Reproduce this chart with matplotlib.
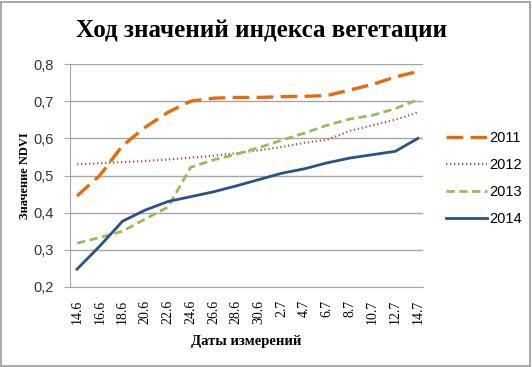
import matplotlib
matplotlib.use("Agg")
import matplotlib.pyplot as plt
from matplotlib.patches import Rectangle

dates = ["14.6", "16.6", "18.6", "20.6", "22.6", "24.6", "26.6", "28.6",
         "30.6", "2.7", "4.7", "6.7", "8.7", "10.7", "12.7", "14.7"]
ndvi_2011 = [0.445, 0.50, 0.58, 0.63, 0.67, 0.70, 0.708, 0.71, 0.71, 0.712,
             0.713, 0.715, 0.73, 0.745, 0.765, 0.78]
ndvi_2012 = [0.53, 0.533, 0.536, 0.539, 0.543, 0.548, 0.553, 0.56, 0.568,
             0.577, 0.588, 0.596, 0.62, 0.635, 0.65, 0.67]
ndvi_2013 = [0.318, 0.333, 0.35, 0.383, 0.415, 0.522, 0.542, 0.557, 0.575,
             0.595, 0.614, 0.635, 0.652, 0.662, 0.68, 0.704]
ndvi_2014 = [0.248, 0.31, 0.377, 0.407, 0.43, 0.443, 0.456, 0.472, 0.489,
             0.506, 0.518, 0.534, 0.547, 0.556, 0.565, 0.60]
y_ticks = [0.2, 0.3, 0.4, 0.5, 0.6, 0.7, 0.8]
y_tick_labels = ["0,2", "0,3", "0,4", "0,5", "0,6", "0,7", "0,8"]

W, H = 532, 367
fig = plt.figure(figsize=(W / 100, H / 100), dpi=100)
ax = fig.add_axes([70 / W, 1 - 287 / H, (423 - 70) / W, (287 - 64) / H])

x = list(range(len(dates)))
ax.plot(x, ndvi_2011, color="#E46C0A", lw=2.4, dashes=(5, 2.2), label="2011")
ax.plot(x, ndvi_2012, color="#C0504D", lw=1.6, dashes=(0.6, 1.2), label="2012")
ax.plot(x, ndvi_2013, color="#9BBB59", lw=2.0, dashes=(3, 1.6), label="2013")
ax.plot(x, ndvi_2014, color="#2A5288", lw=2.0, label="2014")

ax.set_ylim(0.2, 0.8)
ax.set_xlim(-0.31, 15.22)
ax.set_yticks(y_ticks)
ax.set_yticklabels(y_tick_labels, fontsize=10.5, family="Liberation Sans", color="#333333")
ax.set_xticks(x)
ax.set_xticklabels(dates, rotation=90, fontsize=10, family="Liberation Serif")
ax.grid(axis="y", color="#A6A6A6", lw=1.0)
ax.set_axisbelow(True)
for s in ["top", "right"]:
    ax.spines[s].set_visible(False)
ax.spines["left"].set_color("#A6A6A6")
ax.spines["bottom"].set_color("#A6A6A6")
ax.tick_params(axis="y", length=4, color="#A6A6A6", pad=8)
ax.tick_params(axis="x", length=0, pad=9)

ax.set_ylabel("Значение NDVI", family="Liberation Serif", fontweight="bold",
              fontsize=9)
ax.yaxis.set_label_coords((31 - 70) / 353, 0.5)
ax.set_xlabel("Даты измерений", family="Liberation Serif", fontweight="bold",
              fontsize=10.5, labelpad=8)

fig.text(261 / W, 1 - 31 / H, "Ход значений индекса вегетации",
         family="Liberation Serif", fontweight="bold", fontsize=18,
         ha="center", va="center")

leg = ax.legend(loc="upper left", bbox_to_anchor=((446 - 70) / 353, 1 - (131 - 64) / 223),
                frameon=False, prop={"family": "Liberation Sans", "size": 10.5},
                handlelength=2.8, handletextpad=0.2, labelspacing=0.9,
                borderaxespad=0, borderpad=0)

fig.patches.append(Rectangle((0.002, 0.003), 0.994, 0.992, transform=fig.transFigure,
                             fill=False, edgecolor="#9A9A9A", lw=1.2))

fig.savefig("out.png", dpi=100)
